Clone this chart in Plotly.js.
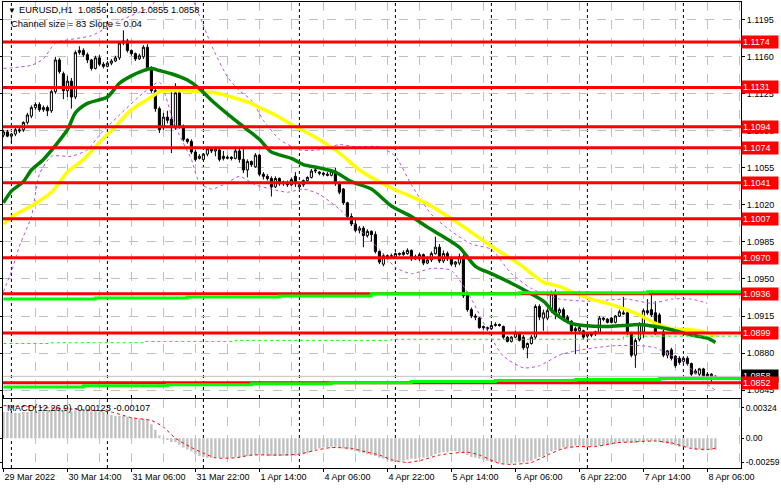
<!DOCTYPE html>
<html><head><meta charset="utf-8">
<script src="https://cdn.plot.ly/plotly-3.0.1.min.js"></script>
<style>html,body{margin:0;padding:0;background:#fff}#chart{width:781px;height:489px}</style>
</head><body><div id="chart"></div>
<script>
// ---- candles (hourly bars, index 0 = 29 Mar 22:00) ----
const open = [
1.1086,1.1089,1.1085,1.1087,1.1091,1.1091,1.1098,1.1104,1.1112,1.1115,
1.1110,1.1112,1.1109,1.1127,1.1157,1.1144,1.1128,1.1137,1.1122,1.1164,
1.1166,1.1162,1.1157,1.1149,1.1159,1.1153,1.1151,1.1154,1.1156,1.1159,
1.1173,1.1175,1.1166,1.1163,1.1158,1.1160,1.1169,1.1150,1.1128,1.1111,
1.1093,1.1103,1.1101,1.1093,1.1126,1.1094,1.1082,1.1080,1.1070,1.1064,
1.1063,1.1068,1.1073,1.1071,1.1072,1.1066,1.1064,1.1065,1.1064,1.1071,
1.1063,1.1053,1.1061,1.1056,1.1067,1.1049,1.1047,1.1045,1.1037,1.1045,
1.1040,1.1041,1.1039,1.1047,1.1037,1.1039,1.1043,1.1046,1.1052,1.1051,
1.1050,1.1049,1.1048,1.1052,1.1040,1.1035,1.1022,1.1009,1.1002,1.0996,
1.0998,1.0991,1.0995,1.0992,1.0976,1.0964,1.0972,1.0971,1.0971,1.0973,
1.0973,1.0974,1.0977,1.0969,1.0969,1.0973,1.0965,1.0968,1.0974,1.0980,
1.0967,1.0974,1.0969,1.0964,1.0965,1.0971,1.0935,1.0921,1.0915,1.0913,
1.0905,1.0904,1.0903,1.0906,1.0907,1.0905,1.0895,1.0891,1.0895,1.0899,
1.0895,1.0885,1.0889,1.0895,1.0924,1.0913,1.0913,1.0920,1.0937,1.0918,
1.0921,1.0914,1.0910,1.0903,1.0901,1.0901,1.0896,1.0898,1.0898,1.0899,
1.0913,1.0912,1.0913,1.0909,1.0915,1.0918,1.0918,1.0899,1.0878,1.0893,
1.0900,1.0920,1.0921,1.0918,1.0916,1.0900,1.0878,1.0883,1.0877,1.0875,
1.0872,1.0875,1.0870,1.0861,1.0860,1.0865,1.0860,1.0860,1.0856];
const high = [
1.1091,1.1091,1.1088,1.1093,1.1094,1.1099,1.1107,1.1114,1.1117,1.1117,
1.1114,1.1114,1.1129,1.1160,1.1159,1.1146,1.1142,1.1140,1.1166,1.1170,
1.1168,1.1164,1.1158,1.1161,1.1162,1.1155,1.1156,1.1158,1.1161,1.1175,
1.1185,1.1177,1.1167,1.1164,1.1163,1.1171,1.1172,1.1151,1.1130,1.1113,
1.1107,1.1109,1.1128,1.1135,1.1128,1.1096,1.1083,1.1082,1.1072,1.1068,
1.1069,1.1075,1.1074,1.1075,1.1074,1.1071,1.1067,1.1066,1.1073,1.1075,
1.1075,1.1063,1.1062,1.1069,1.1068,1.1051,1.1049,1.1047,1.1047,1.1046,
1.1043,1.1043,1.1046,1.1051,1.1040,1.1044,1.1047,1.1054,1.1055,1.1052,
1.1051,1.1051,1.1054,1.1055,1.1041,1.1036,1.1023,1.1012,1.1008,1.1000,
1.1000,1.0997,1.0996,1.0995,1.0977,1.0974,1.0973,1.0974,1.0975,1.0975,
1.0977,1.0979,1.0978,1.0973,1.0975,1.0974,1.0971,1.0976,1.0990,1.0983,
1.0977,1.0976,1.0971,1.0967,1.0974,1.0973,1.0938,1.0923,1.0917,1.0914,
1.0906,1.0905,1.0908,1.0909,1.0908,1.0906,1.0896,1.0896,1.0901,1.0900,
1.0897,1.0890,1.0897,1.0926,1.0926,1.0921,1.0922,1.0939,1.0940,1.0923,
1.0923,1.0916,1.0911,1.0905,1.0906,1.0902,1.0900,1.0899,1.0901,1.0915,
1.0914,1.0913,1.0914,1.0916,1.0921,1.0933,1.0920,1.0900,1.0894,1.0909,
1.0922,1.0931,1.0939,1.0929,1.0918,1.0902,1.0883,1.0885,1.0878,1.0877,
1.0877,1.0877,1.0871,1.0865,1.0866,1.0866,1.0862,1.0861,1.0859];
const low = [
1.1084,1.1084,1.1079,1.1085,1.1088,1.1089,1.1096,1.1102,1.1110,1.1108,
1.1108,1.1104,1.1107,1.1125,1.1144,1.1120,1.1122,1.1111,1.1120,1.1162,
1.1160,1.1154,1.1147,1.1148,1.1151,1.1149,1.1150,1.1152,1.1155,1.1157,
1.1171,1.1164,1.1161,1.1156,1.1157,1.1158,1.1148,1.1126,1.1108,1.1088,
1.1091,1.1097,1.1069,1.1091,1.1092,1.1080,1.1078,1.1068,1.1061,1.1063,
1.1062,1.1066,1.1069,1.1066,1.1061,1.1062,1.1063,1.1062,1.1063,1.1060,
1.1050,1.1046,1.1056,1.1055,1.1047,1.1044,1.1043,1.1028,1.1036,1.1038,
1.1038,1.1037,1.1038,1.1037,1.1035,1.1037,1.1042,1.1045,1.1050,1.1048,
1.1047,1.1047,1.1047,1.1038,1.1030,1.1020,1.1007,1.1000,1.0994,1.0993,
1.0980,1.0989,1.0985,1.0974,1.0964,1.0962,1.0969,1.0970,1.0970,1.0972,
1.0972,1.0973,1.0967,1.0968,1.0967,1.0963,1.0964,1.0966,1.0973,1.0965,
1.0965,1.0967,1.0962,1.0961,1.0963,1.0932,1.0919,1.0913,1.0911,1.0903,
1.0902,1.0901,1.0902,1.0905,1.0905,1.0893,1.0890,1.0890,1.0894,1.0891,
1.0883,1.0875,1.0888,1.0893,1.0911,1.0901,1.0911,1.0918,1.0912,1.0914,
1.0910,1.0908,1.0899,1.0879,1.0899,1.0893,1.0894,1.0895,1.0896,1.0898,
1.0910,1.0908,1.0908,1.0908,1.0914,1.0916,1.0897,1.0876,1.0866,1.0891,
1.0894,1.0916,1.0914,1.0897,1.0906,1.0876,1.0875,1.0873,1.0866,1.0869,
1.0870,1.0868,1.0858,1.0860,1.0858,1.0857,1.0856,1.0853,1.0855];
const close = [
1.1089,1.1085,1.1087,1.1091,1.1090,1.1098,1.1105,1.1112,1.1115,1.1110,
1.1112,1.1109,1.1127,1.1157,1.1146,1.1128,1.1137,1.1122,1.1164,1.1166,
1.1162,1.1157,1.1149,1.1159,1.1153,1.1151,1.1154,1.1156,1.1159,1.1173,
1.1175,1.1166,1.1163,1.1158,1.1161,1.1169,1.1150,1.1128,1.1111,1.1091,
1.1103,1.1100,1.1093,1.1126,1.1094,1.1082,1.1080,1.1070,1.1063,1.1066,
1.1068,1.1073,1.1071,1.1073,1.1063,1.1064,1.1065,1.1064,1.1071,1.1063,
1.1053,1.1061,1.1058,1.1067,1.1049,1.1047,1.1045,1.1037,1.1045,1.1040,
1.1041,1.1039,1.1044,1.1040,1.1039,1.1043,1.1046,1.1052,1.1053,1.1050,
1.1049,1.1048,1.1052,1.1040,1.1032,1.1022,1.1009,1.1002,1.0996,1.0998,
1.0991,1.0995,1.0992,1.0976,1.0966,1.0972,1.0971,1.0972,1.0974,1.0974,
1.0975,1.0977,1.0969,1.0971,1.0973,1.0965,1.0968,1.0974,1.0980,1.0967,
1.0974,1.0969,1.0964,1.0966,1.0971,1.0934,1.0921,1.0915,1.0914,1.0904,
1.0904,1.0903,1.0906,1.0907,1.0906,1.0895,1.0891,1.0895,1.0899,1.0892,
1.0885,1.0889,1.0895,1.0924,1.0914,1.0918,1.0920,1.0936,1.0917,1.0921,
1.0912,1.0910,1.0901,1.0901,1.0904,1.0895,1.0898,1.0897,1.0900,1.0913,
1.0912,1.0909,1.0909,1.0915,1.0919,1.0917,1.0899,1.0878,1.0892,1.0907,
1.0920,1.0918,1.0916,1.0899,1.0908,1.0878,1.0882,1.0875,1.0868,1.0871,
1.0875,1.0870,1.0860,1.0863,1.0865,1.0858,1.0858,1.0855,1.0858];

// ---- moving averages (sampled at bar indices) ----
const greenMaX = [0,2,5,7,10,16,18,21,26,29,32,35,37,39,42,46,49,52,57,61,64,67,72,75,79,83,87,92,97,102,106,110,114,118,122,127,131,135,138,142,145,151,155,159,163,167,172,176,178];
const greenMaY = [1.1022,1.1033,1.1042,1.1053,1.1063,1.1091,1.1107,1.1116,1.1122,1.1135,1.1142,1.1147,1.1149,1.1147,1.1144,1.1138,1.1130,1.1119,1.1103,1.1091,1.1082,1.1070,1.1064,1.1058,1.1055,1.1051,1.1042,1.1035,1.1019,1.1009,1.0999,1.0990,1.0980,1.0962,1.0955,1.0946,1.0938,1.0929,1.0917,1.0908,1.0906,1.0905,1.0906,1.0907,1.0905,1.0902,1.0897,1.0894,1.0890];
const yellowMaX = [0,3,7,12,16,20,24,28,32,37,39,41,45,49,53,57,62,64,68,72,77,81,85,89,97,106,114,122,129,135,139,142,147,151,155,159,163,167,172,176,178];
const yellowMaY = [1.1002,1.1011,1.1019,1.1032,1.1051,1.1063,1.1079,1.1094,1.1110,1.1122,1.1127,1.1128,1.1128,1.1127,1.1126,1.1122,1.1116,1.1112,1.1105,1.1096,1.1086,1.1077,1.1066,1.1053,1.1036,1.1021,1.1002,1.0981,1.0964,1.0947,1.0943,1.0938,1.0931,1.0927,1.0922,1.0916,1.0908,1.0903,1.0902,1.0899,1.0896];

// ---- envelope bands (purple dashed) ----
const upperBandX = [0,7,10,13,22,29,37,39,47,49,52,56,59,62,65,69,74,79,84,88,94,98,102,107,112,117,122,127,132,135,139,146,151,156,162,167,172,176];
const upperBandY = [1.1149,1.1152,1.1158,1.1173,1.1180,1.1194,1.1208,1.1218,1.1215,1.1199,1.1171,1.1141,1.1128,1.1119,1.1100,1.1082,1.1072,1.1072,1.1077,1.1075,1.1075,1.1066,1.1039,1.1011,1.0995,1.0983,1.0978,1.0955,1.0941,1.0936,1.0931,1.0929,1.0930,1.0931,1.0927,1.0931,1.0931,1.0927];
const lowerBandX = [0,2,4,7,9,12,17,21,24,29,35,39,42,44,47,49,52,56,59,63,67,71,75,79,84,89,94,98,102,107,112,117,122,125,130,134,139,143,148,153,159,163,167,171,174,178];
const lowerBandY = [1.0938,1.0957,1.0981,1.1009,1.1049,1.1066,1.1066,1.1072,1.1086,1.1105,1.1126,1.1136,1.1105,1.1086,1.1063,1.1041,1.1035,1.1041,1.1047,1.1039,1.1035,1.1032,1.1035,1.1030,1.1016,1.0997,1.0978,1.0961,1.0955,1.0960,1.0958,1.0931,1.0894,1.0877,1.0866,1.0868,1.0878,1.0882,1.0885,1.0887,1.0887,1.0885,1.0878,1.0869,1.0856,1.0845];

// ---- stepped level lines ----
const greenHighX = [0,23,46,69,92,129,161,185];
const greenHighY = [1.0931,1.0932,1.0933,1.0934,1.0936,1.0937,1.0938,1.0938];
const greenLowX = [0,20,41,62,82,102,123,143,164,185];
const greenLowY = [1.0848,1.0849,1.0850,1.0851,1.0852,1.0853,1.0854,1.0855,1.0856,1.0856];
const limeDashX = [0,12,35,58,97,155,185];
const limeDashY = [1.0889,1.08897,1.0891,1.0892,1.0893,1.0896,1.0896];

// ---- red horizontal levels ----
const redLevels = [1.1174,1.1131,1.1094,1.1074,1.1041,1.1007,1.0970,1.0936,1.0899,1.0852];

// ---- MACD ----
const macdHist = [
0.0028,0.0028,0.0027,0.0027,0.0027,0.0028,0.0028,0.0029,0.0029,0.0029,
0.0029,0.0029,0.0030,0.0031,0.0031,0.0030,0.0030,0.0029,0.0030,0.0030,
0.0030,0.0030,0.0029,0.0029,0.0028,0.0028,0.0026,0.0025,0.0024,0.0024,
0.0024,0.0023,0.0022,0.0021,0.0021,0.0021,0.0020,0.0015,0.0009,0.0003,
-0.0001,-0.0002,-0.0004,-0.0004,-0.0007,-0.0010,-0.0012,-0.0014,-0.0017,-0.0019,
-0.0020,-0.0021,-0.0021,-0.0021,-0.0021,-0.0021,-0.0021,-0.0021,-0.0020,-0.0020,
-0.0020,-0.0019,-0.0019,-0.0018,-0.0018,-0.0018,-0.0019,-0.0019,-0.0019,-0.0019,
-0.0019,-0.0019,-0.0019,-0.0019,-0.0018,-0.0017,-0.0016,-0.0014,-0.0012,-0.0011,
-0.0010,-0.0010,-0.0009,-0.0009,-0.0010,-0.0011,-0.0012,-0.0013,-0.0014,-0.0015,
-0.0016,-0.0017,-0.0018,-0.0019,-0.0021,-0.0022,-0.0023,-0.0025,-0.0025,-0.0024,
-0.0024,-0.0023,-0.0022,-0.0022,-0.0021,-0.0021,-0.0020,-0.0019,-0.0017,-0.0016,
-0.0015,-0.0015,-0.0014,-0.0014,-0.0015,-0.0016,-0.0018,-0.0020,-0.0021,-0.0022,
-0.0023,-0.0024,-0.0025,-0.0026,-0.0026,-0.0027,-0.0027,-0.0027,-0.0026,-0.0026,
-0.0026,-0.0025,-0.0024,-0.0022,-0.0020,-0.0019,-0.0017,-0.0014,-0.0013,-0.0012,
-0.0010,-0.0010,-0.0009,-0.0008,-0.0008,-0.0009,-0.0009,-0.0009,-0.0009,-0.0008,
-0.0008,-0.0007,-0.0007,-0.0006,-0.0005,-0.0004,-0.0004,-0.0005,-0.0005,-0.0004,
-0.0003,-0.0003,-0.0003,-0.0003,-0.0004,-0.0005,-0.0006,-0.0007,-0.0008,-0.0009,
-0.0009,-0.0010,-0.0011,-0.0012,-0.0012,-0.0013,-0.0013,-0.0013,-0.00123];
const signalX = [0,18,27,32,37,40,43,47,50,53,58,62,69,74,78,82,87,91,94,97,101,105,109,116,119,124,127,132,136,140,143,148,153,157,163,167,172,176,178];
const signalY = [0.0035,0.0031,0.0028,0.0022,0.0019,0.0012,0.0000,-0.0010,-0.0016,-0.0021,-0.0021,-0.0018,-0.0018,-0.0017,-0.0013,-0.0010,-0.0011,-0.0015,-0.0018,-0.0023,-0.0026,-0.0023,-0.0018,-0.0015,-0.0018,-0.0027,-0.0028,-0.0026,-0.0018,-0.0011,-0.0009,-0.0009,-0.0005,-0.0004,-0.0003,-0.0005,-0.0011,-0.0012,-0.00107];

// ---- axes labels ----
const priceTicks = [1.1195,1.1160,1.1125,1.1090,1.1055,1.1020,1.0985,1.0950,1.0915,1.0880,1.0845];
const timeTickIdx = [0,16,32,48,64,80,96,112,128,144,160,176];
const timeTickText = ['29 Mar 2022','30 Mar 14:00','31 Mar 06:00','31 Mar 22:00','1 Apr 14:00','4 Apr 06:00','4 Apr 22:00','5 Apr 14:00','6 Apr 06:00','6 Apr 22:00','7 Apr 14:00','8 Apr 06:00'];
const minorGridIdx = [8,24,40,56,72,88,104,120,136,152,168,184];
const daySeparators = [2,26,50,74,98,122,146,170];
const macdTicks = [0.00324,0,-0.00259];
const macdTickText = ['0.00324','0.00','-0.00259'];

const FONT = 'Liberation Sans, Arial, sans-serif';
const idx = open.map((_, i) => i);
const lastClose = close[close.length - 1];

const traces = [];
traces.push({type:'scatter', mode:'lines', x:upperBandX, y:upperBandY, line:{color:'#B64FE0', width:1, dash:'3px,3px', shape:'spline', smoothing:0.6}, hoverinfo:'skip'});
traces.push({type:'scatter', mode:'lines', x:lowerBandX, y:lowerBandY, line:{color:'#B64FE0', width:1, dash:'3px,3px', shape:'spline', smoothing:0.6}, hoverinfo:'skip'});
traces.push({type:'scatter', mode:'lines', x:[-1, 190], y:[lastClose, lastClose], line:{color:'#C0C0C0', width:1}, hoverinfo:'skip'});
traces.push({type:'candlestick', x:idx, open:open, high:high, low:low, close:close,
  increasing:{line:{color:'#000', width:1}, fillcolor:'#fff'},
  decreasing:{line:{color:'#000', width:1}, fillcolor:'#000'},
  whiskerwidth:0, hoverinfo:'skip'});
traces.push({type:'scatter', mode:'lines', x:yellowMaX, y:yellowMaY, line:{color:'#FFFF00', width:3.5, shape:'spline', smoothing:0.7}, hoverinfo:'skip'});
traces.push({type:'scatter', mode:'lines', x:greenMaX, y:greenMaY, line:{color:'#008000', width:3.5, shape:'spline', smoothing:0.7}, hoverinfo:'skip'});
traces.push({type:'scatter', mode:'lines', x:limeDashX, y:limeDashY, line:{color:'#00FF00', width:1, dash:'3px,3px', shape:'hv'}, hoverinfo:'skip'});
redLevels.forEach(v => traces.push({type:'scatter', mode:'lines', x:[-1,190], y:[v,v], line:{color:'#FF0000', width:3}, hoverinfo:'skip'}));
traces.push({type:'scatter', mode:'lines', x:greenHighX, y:greenHighY, line:{color:'#00FF00', width:3, shape:'hv'}, hoverinfo:'skip'});
traces.push({type:'scatter', mode:'lines', x:greenLowX, y:greenLowY, line:{color:'#00FF00', width:3, shape:'hv'}, hoverinfo:'skip'});
traces.push({type:'bar', x:idx, y:macdHist, xaxis:'x', yaxis:'y2', marker:{color:'#C0C0C0', line:{width:0}}, width:0.6, hoverinfo:'skip'});
traces.push({type:'scatter', mode:'lines', x:signalX, y:signalY, xaxis:'x', yaxis:'y2', line:{color:'#FF0000', width:1, dash:'dot', shape:'spline', smoothing:0.6}, hoverinfo:'skip'});

const px2x = px => (px - 3) / 738;
const px2y = py => (468 - py) / 466;

const annotations = [];
annotations.push({xref:'paper', yref:'y', x:1, y:lastClose, xanchor:'left', yanchor:'middle', text:lastClose.toFixed(4), showarrow:false, bgcolor:'#000', font:{family:FONT, size:9, color:'#fff'}, borderpad:1, width:34, align:'left'});
redLevels.forEach(v => annotations.push({xref:'paper', yref:'y', x:1, y:v, xanchor:'left', yanchor:'middle', text:v.toFixed(4), showarrow:false, bgcolor:'#FF0000', font:{family:FONT, size:9, color:'#fff'}, borderpad:1, width:34, align:'left'}));
annotations.push({xref:'paper', yref:'paper', x:px2x(6), y:px2y(10), xanchor:'left', yanchor:'middle', text:'▼', showarrow:false, font:{family:FONT, size:8, color:'#000'}});
annotations.push({xref:'paper', yref:'paper', x:px2x(17), y:px2y(10), xanchor:'left', yanchor:'middle', text:'EURUSD,H1  1.0856 1.0859 1.0855 1.0858', showarrow:false, font:{family:FONT, size:9.3, color:'#000'}});
annotations.push({xref:'paper', yref:'paper', x:px2x(9), y:px2y(24), xanchor:'left', yanchor:'middle', text:'Channel size = 83 Slope = 0.04', showarrow:false, font:{family:FONT, size:9.4, color:'#000'}});
annotations.push({xref:'paper', yref:'paper', x:px2x(5), y:px2y(408), xanchor:'left', yanchor:'middle', text:'MACD(12,26,9) -0.00123 -0.00107', showarrow:false, font:{family:FONT, size:9.3, color:'#000'}});

const shapes = daySeparators.map(d => ({type:'line', xref:'x', yref:'paper', x0:d, x1:d, y0:0, y1:1, line:{color:'#000', width:1, dash:'3px,3px'}, layer:'between'}));

const layout = {
  width:781, height:489,
  margin:{l:3, r:40, t:2, b:21, pad:0},
  paper_bgcolor:'#fff', plot_bgcolor:'#fff',
  showlegend:false, boxgap:0.25, bargap:0.3,
  font:{family:FONT, size:9, color:'#000'},
  xaxis:{
    range:[-0.1, 184.4], anchor:'y2', rangeslider:{visible:false},
    tickmode:'array', tickvals:timeTickIdx, ticktext:timeTickText,
    ticks:'outside', ticklen:3, tickcolor:'#000', ticklabelposition:'outside right',
    tickfont:{family:FONT, size:9, color:'#000'},
    showgrid:true, gridcolor:'#C0C0C0', griddash:'dash', gridwidth:1,
    minor:{tickmode:'array', tickvals:minorGridIdx, showgrid:true, gridcolor:'#C0C0C0', griddash:'dash', ticks:''},
    zeroline:false, showline:true, linecolor:'#000', linewidth:1, mirror:'all', fixedrange:true
  },
  yaxis:{
    domain:[0.150, 1], range:[1.08374, 1.12118], side:'right', anchor:'x',
    tickmode:'array', tickvals:priceTicks, ticktext:priceTicks.map(v => v.toFixed(4)),
    ticks:'outside', ticklen:3, tickcolor:'#000', tickfont:{family:FONT, size:9, color:'#000'},
    showgrid:true, gridcolor:'#C0C0C0', griddash:'dash', gridwidth:1,
    zeroline:false, showline:true, linecolor:'#000', linewidth:1, mirror:'all', fixedrange:true
  },
  yaxis2:{
    domain:[0, 0.147], range:[-0.00319, 0.00415], side:'right', anchor:'x',
    tickmode:'array', tickvals:macdTicks, ticktext:macdTickText,
    ticks:'outside', ticklen:2, tickcolor:'#000', tickfont:{family:FONT, size:8.6, color:'#000'},
    showgrid:false, zeroline:false, showline:true, linecolor:'#000', linewidth:1, mirror:'all', fixedrange:true
  },
  annotations:annotations, shapes:shapes
};

Plotly.newPlot('chart', traces, layout, {staticPlot:true, displayModeBar:false});
</script>
</body></html>
